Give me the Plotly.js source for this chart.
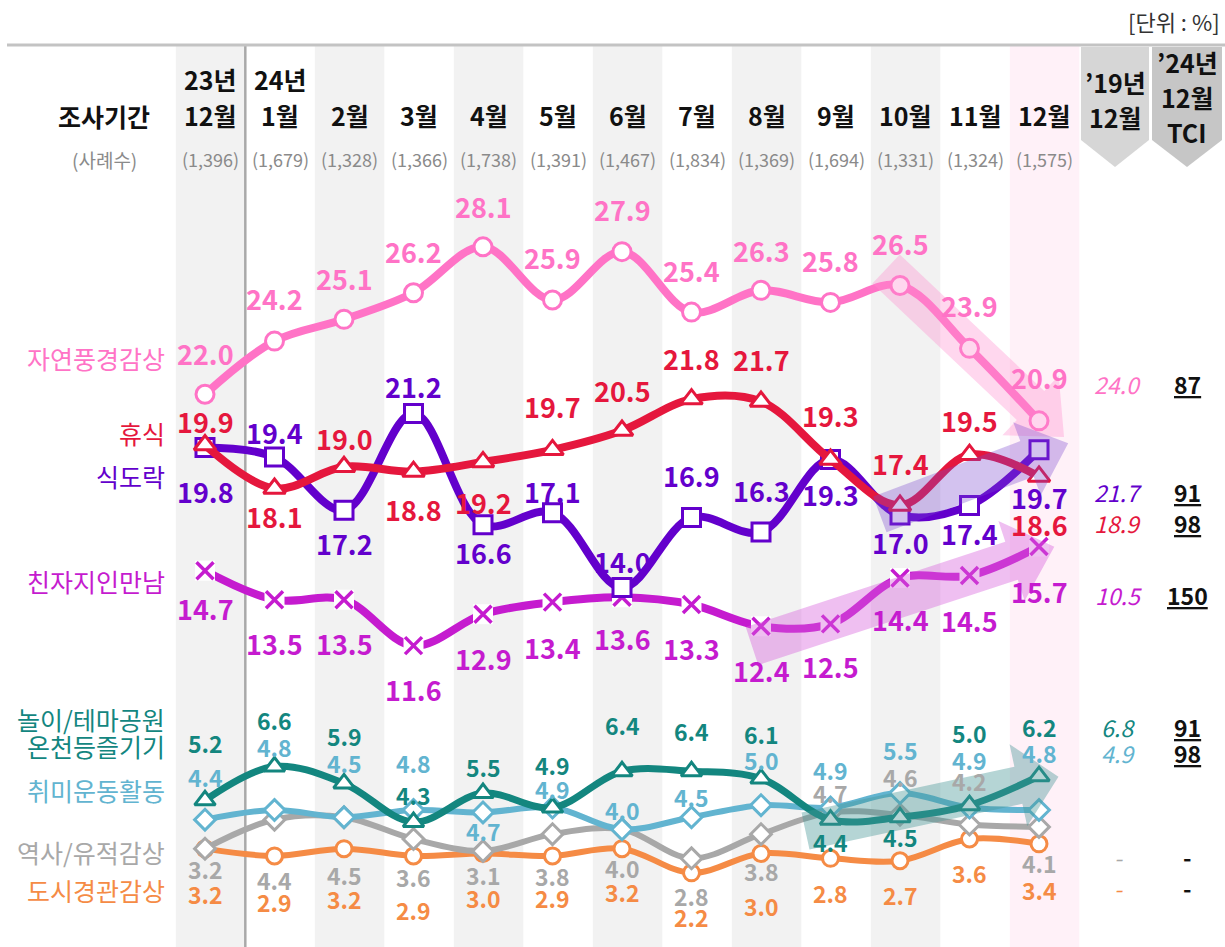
<!DOCTYPE html>
<html><head><meta charset="utf-8">
<script src="https://cdn.plot.ly/plotly-3.0.1.min.js"></script>
<style>body{margin:0;background:#fff}#chart{width:1225px;height:947px}</style>
</head><body><div id="chart"></div>
<script>
// ---------- data ----------
const months = ['23년<br>12월','24년<br>1월','2월','3월','4월','5월','6월','7월','8월','9월','10월','11월','12월'];
const samples = ['(1,396)','(1,679)','(1,328)','(1,366)','(1,738)','(1,391)','(1,467)','(1,834)','(1,369)','(1,694)','(1,331)','(1,324)','(1,575)'];

const nature  = [22.0,24.2,25.1,26.2,28.1,25.9,27.9,25.4,26.3,25.8,26.5,23.9,20.9];
const rest    = [19.9,18.1,19.0,18.8,19.2,19.7,20.5,21.8,21.7,19.3,17.4,19.5,18.6];
const food    = [19.8,19.4,17.2,21.2,16.6,17.1,14.0,16.9,16.3,19.3,17.0,17.4,19.7];
const friends = [14.7,13.5,13.5,11.6,12.9,13.4,13.6,13.3,12.4,12.5,14.4,14.5,15.7];
const park    = [5.2,6.6,5.9,4.3,5.5,4.9,6.4,6.4,6.1,4.4,4.5,5.0,6.2];
const hobby   = [4.4,4.8,4.5,4.8,4.7,4.9,4.0,4.5,5.0,4.9,5.5,4.9,4.8];
const history = [3.2,4.4,4.5,3.6,3.1,3.8,4.0,2.8,3.8,4.7,4.6,4.2,4.1];
const city    = [3.2,2.9,3.2,2.9,3.0,2.9,3.2,2.2,3.0,2.8,2.7,3.6,3.4];

const seriesNames = ['자연풍경감상','휴식','식도락','친자지인만남','놀이/테마공원<br>온천등즐기기','취미운동활동','역사/유적감상','도시경관감상'];
const dec2019 = ['24.0','18.9','21.7','10.5','6.8','4.9','-','-'];
const tci2024 = ['87','98','91','150','91','98','-','-'];

// ---------- layout helpers ----------
const W = 1225, H = 947;
const PX0 = 205, PXU = 69.5;     // pixel of column 0 marker, pixels per column
const PY0 = 926, PYU = 24.17;    // pixel of value 0, pixels per unit
const X0 = -PX0/PXU, X1 = (W-PX0)/PXU;
const Y1 = PY0/PYU, Y0 = (PY0-H)/PYU;
const px2x = p => X0 + p/W*(X1-X0);
const py2y = p => Y1 - p/H*(Y1-Y0);
const x2px = x => PX0 + x*PXU;
const y2py = y => PY0 - y*PYU;
const FONT = 'Noto Sans CJK KR, Noto Sans, sans-serif';
const idx = months.map((_, i) => i);

const series = [
  {v:nature,  name:0, color:'#ff73c6', sym:'circle',      size:18, lw:8, text:27, nameY:358,   valY:384,
   shift:[-41,-43,-41,-41,-40,-43,-42,-42,-40,-42,-42,-43,-43]},
  {v:rest,    name:1, color:'#e5173d', sym:'triangle-up', size:19, lw:8, text:27, nameY:433,   valY:523,
   shift:[-24,28,-28,38,41,-43,-40,-41,-42,-44,-42,-34,48]},
  {v:food,    name:2, color:'#6300cc', sym:'square',      size:18, lw:8, text:27, nameY:476,   valY:492,
   shift:[44,-25,33,-27,28,-21,-26,-42,-42,35,27,28,48]},
  {v:friends, name:3, color:'#c51bcf', sym:'x-thin',      size:17, lw:8, text:27, nameY:581,   valY:595,
   shift:[38,44,44,44,44,45,41,44,44,43,42,45,45]},
  {v:park,    name:4, color:'#13867f', sym:'triangle-up', size:18, lw:7, text:23, nameY:733,   valY:727,
   shift:[-57,-46,-47,-27,-26,-43,-46,-40,-45,22,20,-72,-49]},
  {v:hobby,   name:5, color:'#62b4d0', sym:'diamond',     size:16, lw:6, text:23, nameY:790,   valY:753,
   shift:[-43,-63,-54,-47,19,-19,-19,-20,-45,-38,-43,-48,-57]},
  {v:history, name:6, color:'#a8a8a8', sym:'diamond',     size:16, lw:6, text:23, nameY:852,   valY:857,
   shift:[20,60,58,38,24,42,39,38,37,-19,-38,-43,36]},
  {v:city,    name:7, color:'#f58b45', sym:'circle',      size:16, lw:6, text:23, nameY:890,   valY:888,
   shift:[45,46,50,54,45,42,43,44,53,35,34,34,46]}
];

// ---------- traces ----------
const drawOrder = [3,2,1,0,7,6,5,4];
const traces = [];
drawOrder.forEach(k => {
  const s = series[k];
  traces.push({x:idx, y:s.v, mode:'lines', type:'scatter',
    line:{color:s.color, width:s.lw, shape:'spline', smoothing:1}, hoverinfo:'skip'});
  if (s.sym === 'x-thin') {
    traces.push({x:idx, y:s.v, mode:'markers', type:'scatter',
      marker:{symbol:'square', size:20, color:'#ffffff'}, hoverinfo:'skip'});
    traces.push({x:idx, y:s.v, mode:'markers', type:'scatter',
      marker:{symbol:'x-thin', size:s.size, line:{color:s.color, width:3.5}}, hoverinfo:'skip'});
  } else {
    traces.push({x:idx, y:s.v, mode:'markers', type:'scatter',
      marker:{symbol:s.sym, size:s.size, color:'#ffffff', line:{color:s.color, width:3}}, hoverinfo:'skip'});
  }
});

// ---------- shapes ----------
const shapes = [];
const topPx = 45;
months.forEach((m, i) => {
  let fill = null;
  if (i === 12) fill = '#fff1f8';
  else if (i % 2 === 0) fill = '#f2f2f2';
  if (fill) shapes.push({type:'rect', layer:'below', xref:'x', yref:'y',
    x0:i-0.42, x1:i+0.58, y0:Y0, y1:py2y(topPx), fillcolor:fill, line:{width:0}});
});
shapes.push({type:'line', layer:'above', xref:'x', yref:'y', x0:px2x(7), x1:X1, y0:py2y(topPx), y1:py2y(topPx),
  line:{color:'#c3c3c3', width:3}});
shapes.push({type:'line', layer:'below', xref:'x', yref:'y', x0:0.58, x1:0.58, y0:Y0, y1:py2y(topPx),
  line:{color:'#a9a9a9', width:2.5}});

function polyPath(pts){
  return 'M' + pts.map(p => px2x(p[0]).toFixed(4)+','+py2y(p[1]).toFixed(4)).join(' L') + ' Z';
}
// chevrons in header
[[1081,1149,'#d6d6d6'],[1152,1222,'#c6c6c6']].forEach(c => {
  const mid = (c[0]+c[1])/2;
  shapes.push({type:'path', layer:'below', xref:'x', yref:'y', fillcolor:c[2], line:{width:0},
    path: polyPath([[c[0],47],[c[1],47],[c[1],140],[mid,167],[c[0],140]])});
});

// translucent trend arrows (start/end given in column index / value space)
const trendArrows = [
  {from:[9.80,27.18], to:[12.36,20.23], sw:20, hw:41, hl:46, color:'rgba(255,140,205,0.35)'},
  {from:[9.71,17.03], to:[12.42,19.97], sw:19, hw:39, hl:44, color:'rgba(120,70,205,0.33)'},
  {from:[7.87,11.58], to:[12.22,15.69], sw:20, hw:42, hl:45, color:'rgba(215,95,220,0.40)'},
  {from:[8.64,3.93],  to:[12.28,6.18],  sw:19, hw:42, hl:41, color:'rgba(70,150,150,0.40)'}
];
trendArrows.forEach(a => {
  const x0 = x2px(a.from[0]), y0 = y2py(a.from[1]), x1 = x2px(a.to[0]), y1 = y2py(a.to[1]);
  const dx = x1-x0, dy = y1-y0, L = Math.hypot(dx,dy), ux = dx/L, uy = dy/L, nx = -uy, ny = ux;
  const bx = x1-ux*a.hl, by = y1-uy*a.hl;
  shapes.push({type:'path', layer:'above', xref:'x', yref:'y', fillcolor:a.color, line:{width:0},
    path: polyPath([[x0+nx*a.sw,y0+ny*a.sw],[bx+nx*a.sw,by+ny*a.sw],[bx+nx*a.hw,by+ny*a.hw],[x1,y1],
                    [bx-nx*a.hw,by-ny*a.hw],[bx-nx*a.sw,by-ny*a.sw],[x0-nx*a.sw,y0-ny*a.sw]])});
});

// ---------- annotations ----------
const ann = [];
function txt(xp, yp, text, size, color, opts){
  ann.push(Object.assign({xref:'x', yref:'y', x:px2x(xp), y:py2y(yp), text:text, showarrow:false,
    xanchor:'center', yanchor:'middle', font:{family:FONT, size:size, color:color}}, opts||{}));
}
txt(1222, 21, '[단위 : %]', 22, '#333', {xanchor:'right'});
txt(104, 116, '<b>조사기간</b>', 25, '#111');
txt(104, 159, '(사례수)', 19, '#8a8a8a');
months.forEach((m, i) => {
  const cx = x2px(i+0.08);
  if (m.indexOf('<br>') >= 0) {
    const parts = m.split('<br>');
    txt(cx, 79, '<b>'+parts[0]+'</b>', 25, '#111');
    txt(cx, 115, '<b>'+parts[1]+'</b>', 25, '#111');
  } else {
    txt(cx, 115, '<b>'+m+'</b>', 25, '#111');
  }
  txt(cx, 159, samples[i], 18, '#8a8a8a');
});
txt(1115, 82, '<b>’19년</b>', 25, '#111');
txt(1115, 117, '<b>12월</b>', 25, '#111');
txt(1187, 62, '<b>’24년</b>', 25, '#111');
txt(1187, 97, '<b>12월</b>', 25, '#111');
txt(1187, 132, '<b>TCI</b>', 25, '#111');

series.forEach(s => {
  // series name on the left
  const nm = seriesNames[s.name];
  if (nm.indexOf('<br>') >= 0) {
    const parts = nm.split('<br>');
    txt(167, s.nameY-14, parts[0], 25, s.color, {xanchor:'right'});
    txt(167, s.nameY+13, parts[1], 25, s.color, {xanchor:'right'});
  } else {
    txt(167, s.nameY, nm, 25, s.color, {xanchor:'right'});
  }
  // value labels
  s.v.forEach((v, i) => {
    ann.push({xref:'x', yref:'y', x:i, y:v, yshift:-s.shift[i], text:'<b>'+v.toFixed(1)+'</b>',
      showarrow:false, xanchor:'center', yanchor:'middle', font:{family:FONT, size:s.text, color:s.color}});
  });
  // comparison columns
  txt(1118, s.valY, '<i>'+dec2019[s.name]+'</i>', 23, s.color);
  txt(1187, s.valY, tci2024[s.name] === '-' ? '<b>-</b>' : '<b><u>'+tci2024[s.name]+'</u></b>', 23, '#111');
});

const layout = {
  width: W, height: H, margin:{l:0, r:0, t:0, b:0},
  paper_bgcolor:'#ffffff', plot_bgcolor:'#ffffff', showlegend:false, hovermode:false,
  xaxis:{range:[X0, X1], visible:false, fixedrange:true},
  yaxis:{range:[Y0, Y1], visible:false, fixedrange:true},
  shapes: shapes, annotations: ann
};
Plotly.newPlot('chart', traces, layout, {displayModeBar:false, staticPlot:true});
</script></body></html>
